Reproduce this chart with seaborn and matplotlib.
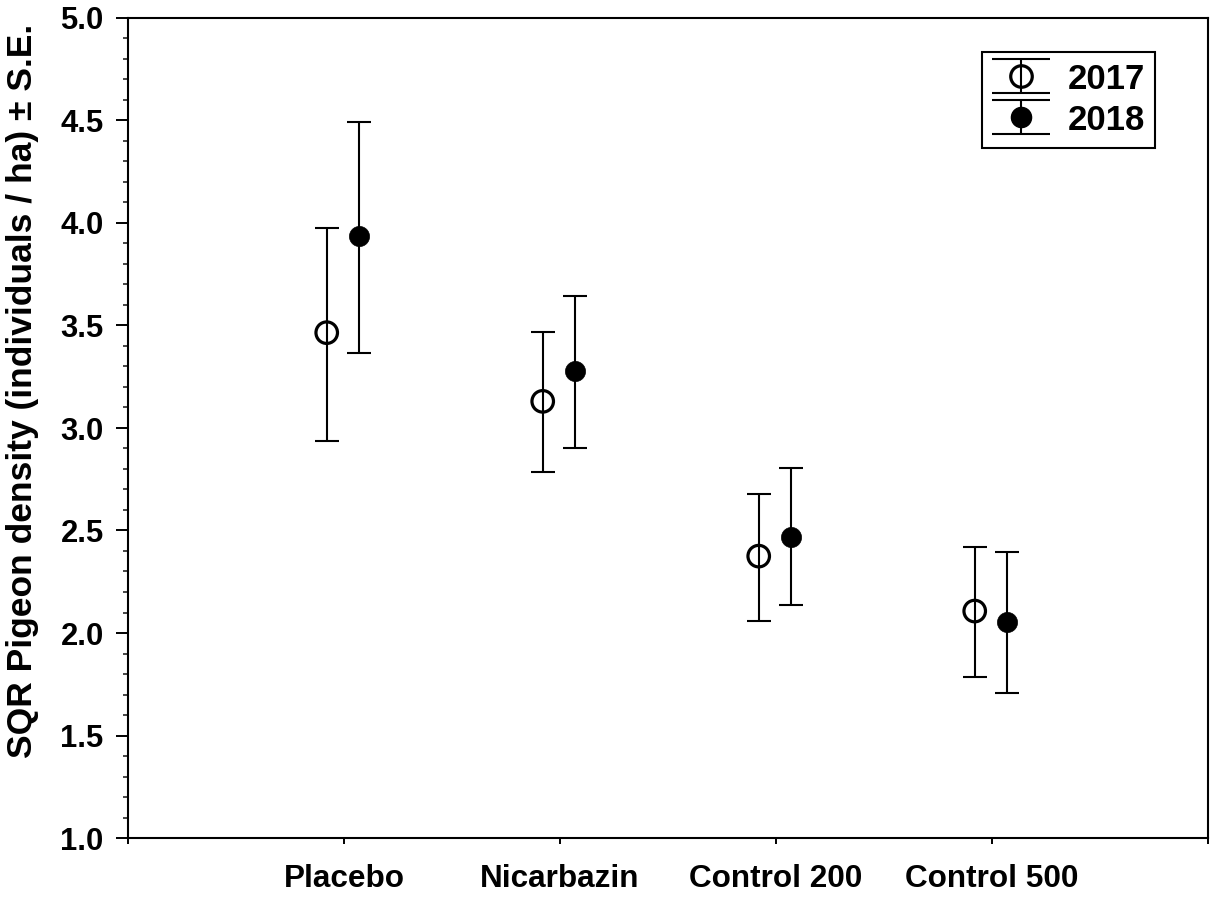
import numpy as np
import pandas as pd
import matplotlib
matplotlib.use("Agg")
import matplotlib.pyplot as plt
import seaborn as sns
from matplotlib.lines import Line2D
from matplotlib.path import Path
from matplotlib.legend_handler import HandlerTuple
from matplotlib.ticker import MultipleLocator, FormatStrFormatter

sns.set_theme(style="ticks")
plt.rcParams["font.family"] = ["Liberation Sans", "DejaVu Sans"]
plt.rcParams["font.weight"] = "bold"
plt.rcParams["text.color"] = "black"
plt.rcParams["axes.labelcolor"] = "black"

treatments = ["Placebo", "Nicarbazin", "Control 200", "Control 500"]
years = ["2017", "2018"]
mean_2017 = [3.465, 3.13, 2.375, 2.107]
lower_2017 = [2.935, 2.783, 2.058, 1.786]
upper_2017 = [3.975, 3.468, 2.68, 2.42]
mean_2018 = [3.937, 3.28, 2.47, 2.052]
lower_2018 = [3.365, 2.9, 2.135, 1.708]
upper_2018 = [4.494, 3.646, 2.806, 2.395]

df = pd.DataFrame({
    "treatment": treatments * 2,
    "year": ["2017"] * 4 + ["2018"] * 4,
    "mean": mean_2017 + mean_2018,
    "lower": lower_2017 + lower_2018,
    "upper": upper_2017 + upper_2018,
})
offsets = {"2017": -0.08, "2018": 0.07}
df["x"] = [treatments.index(t) + 1 + offsets[y] for t, y in zip(df["treatment"], df["year"])]

fig = plt.figure(figsize=(12.17, 8.97), dpi=100)
ax = fig.add_axes([128 / 1217, 1 - 838 / 897, 1080 / 1217, 820 / 897])

# error bars first, markers on top
for yr in years:
    d = df[df["year"] == yr]
    ax.errorbar(d["x"], d["mean"],
                yerr=[d["mean"] - d["lower"], d["upper"] - d["mean"]],
                fmt="none", ecolor="black", elinewidth=1.5,
                capsize=8.5, capthick=1.5, zorder=2)

d17 = df[df["year"] == "2017"]
d18 = df[df["year"] == "2018"]
sns.scatterplot(x="x", y="mean", data=d17, ax=ax, marker="o", s=15.5 ** 2,
                facecolor="none", edgecolor="black", linewidth=2.3, zorder=3, legend=False)
sns.scatterplot(x="x", y="mean", data=d18, ax=ax, marker="o", s=14.5 ** 2,
                color="black", edgecolor="black", linewidth=0.5, zorder=3, legend=False)

ax.set_xlim(0, 5)
ax.set_ylim(1.0, 5.0)
ax.set_xticks(range(0, 6))
ax.set_xticklabels([""] + treatments + [""])
ax.yaxis.set_major_locator(MultipleLocator(0.5))
ax.yaxis.set_minor_locator(MultipleLocator(0.1))
ax.yaxis.set_major_formatter(FormatStrFormatter("%.1f"))
ax.set_xlabel("")
ax.set_ylabel("SQR Pigeon density (individuals / ha) ± S.E.", fontsize=25.5,
              fontweight="bold", color="black")
ax.yaxis.set_label_coords(-0.082, 0.545)

ax.tick_params(axis="x", direction="out", length=4, width=1.4, pad=15,
               labelsize=22.7, colors="black", top=False)
ax.tick_params(axis="y", which="major", direction="out", length=8.5, width=1.4, pad=9,
               labelsize=22.3, colors="black", right=False)
ax.tick_params(axis="y", which="minor", direction="out", length=3.6, width=1.2, right=False)
for lab in ax.get_xticklabels() + ax.get_yticklabels():
    lab.set_fontweight("bold")
for sp in ax.spines.values():
    sp.set_visible(True)
    sp.set_color("black")
    sp.set_linewidth(1.5)
ax.grid(False)

# legend handles: errorbar I-beam + circle
ibeam = Path([(-1, 0.57), (1, 0.57), (-1, -0.57), (1, -0.57), (0, 0.57), (0, -0.57)],
             [Path.MOVETO, Path.LINETO, Path.MOVETO, Path.LINETO, Path.MOVETO, Path.LINETO])
bar_h = Line2D([], [], linestyle="none", marker=ibeam, markersize=42,
               markeredgecolor="black", markerfacecolor="none", markeredgewidth=1.5)
c17 = Line2D([], [], linestyle="none", marker="o", markersize=15.5,
             markerfacecolor="none", markeredgecolor="black", markeredgewidth=2.3)
c18 = Line2D([], [], linestyle="none", marker="o", markersize=14.5,
             markerfacecolor="black", markeredgecolor="black")
leg = ax.legend([(bar_h, c17), (bar_h, c18)], years,
                handler_map={tuple: HandlerTuple(ndivide=1, pad=0)},
                loc="upper right", bbox_to_anchor=(0.951, 0.9585), borderaxespad=0,
                prop={"weight": "bold", "size": 25},
                handlelength=1.67, handleheight=0.95, handletextpad=0.5,
                labelspacing=0.2, borderpad=0.3,
                frameon=True, fancybox=False, framealpha=1, edgecolor="black")
leg.get_frame().set_linewidth(1.5)
for t in leg.get_texts():
    t.set_color("black")

fig.savefig("out.png", dpi=100)
